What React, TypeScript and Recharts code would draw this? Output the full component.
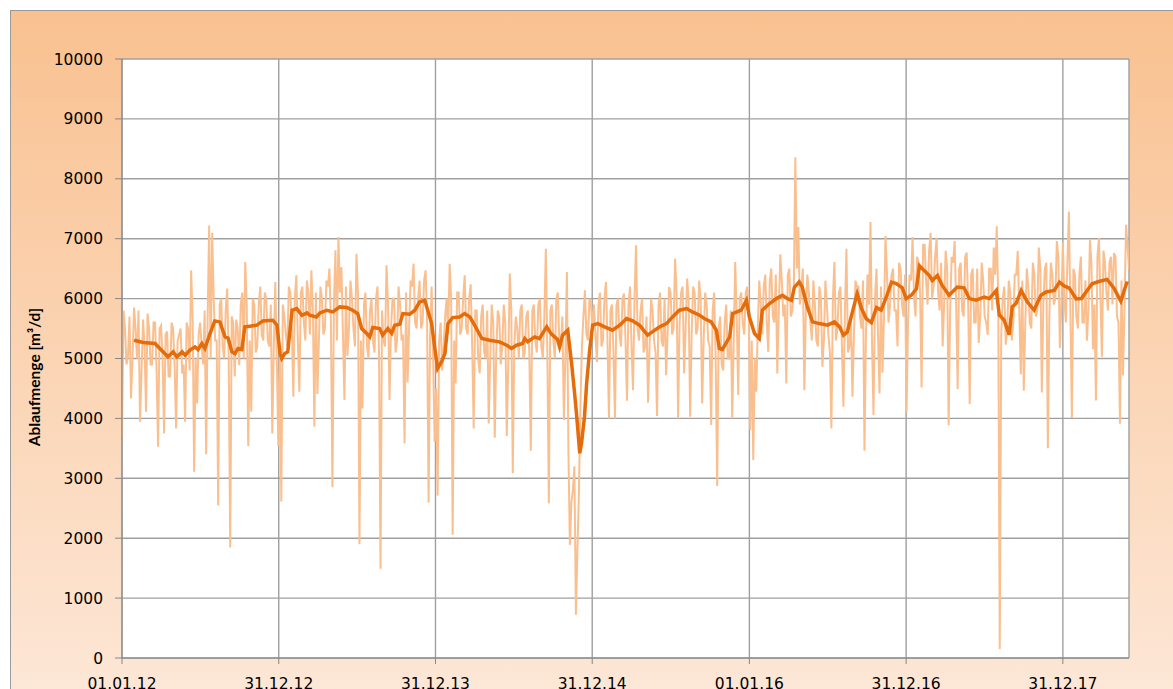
import { LineChart, Line, XAxis, YAxis, CartesianGrid } from "recharts";

// daily outflow: one value at the start of every week ...
const flow2012 = [
  3700, 5500, 5050, 4333, 5850, 5000, 3944, 5650, 4111, 5500,
  4900, 5600, 3528, 5550, 3750, 5450, 4700, 5500, 3833, 5400,
  4750, 3944, 5500, 6472, 3111, 4250, 5600, 4900, 3400, 7222,
  7100, 5300, 2544, 6000, 5000, 6167, 1844, 5600, 5650, 4889,
  6100, 6611, 3539, 4111, 5900, 5200, 6200, 5300, 6000, 5200,
  3750, 6278, 3544,
];
const flow2013 = [
  2611, 5700, 5200, 6100, 4361, 6389, 4444, 6200, 5300, 6100,
  6472, 3861, 4406, 6200, 5400, 6300, 6500, 2850, 6806, 7028,
  6528, 4306, 5044, 6300, 5500, 6750, 1900, 4167, 6100, 5000,
  6000, 5100, 6200, 1489, 5300, 6556, 4306, 6000, 5100, 6200,
  5300, 3583, 4600, 6300, 6583, 5500, 6300, 5600, 6472, 2594,
  6200, 3611,
];
const flow2014 = [
  2711, 5600, 5200, 6000, 6583, 2056, 4583, 6100, 5500, 6389,
  5400, 6239, 3833, 5800, 4750, 5900, 5000, 3917, 5900, 3678,
  5800, 4900, 5900, 3706, 6417, 3083, 5700, 5000, 5900, 5100,
  5800, 3461, 5900, 5100, 6000, 5000, 6833, 2583, 5900, 5000,
  6100, 5200, 3972, 6444, 1889, 2800, 722, 2750, 5200, 6139,
  5300, 5900,
];
const flow2015 = [
  5900, 4944, 6100, 5300, 6278, 4000, 5900, 4000, 6000, 5200,
  6083, 4294, 6200, 4472, 6889, 5300, 6000, 5200, 4261, 6000,
  5300, 4039, 6100, 5200, 4722, 6194, 5400, 6667, 4000, 6100,
  4750, 6333, 4028, 6200, 5400, 6300, 4250, 6100, 5300, 3889,
  6100, 2872, 5700, 4800, 5900, 5000, 4000, 6611, 4389, 6100,
  5400, 6200,
];
const flow2016 = [
  3806, 3306, 4444, 6300, 5400, 6400, 5111, 6500, 5600, 4750,
  6739, 5700, 4583, 6500, 5800, 8361, 7194, 6200, 4472, 6400,
  5600, 6300, 5300, 6200, 4861, 6300, 5400, 3833, 6611, 5500,
  6200, 4194, 6833, 5200, 4361, 6300, 6200, 5500, 3461, 6400,
  7278, 4056, 6500, 4417, 4764, 7044, 5600, 6400, 5800, 5203,
  6500, 5700,
];
const flow2017 = [
  4100, 6400, 7027, 5700, 6600, 4516, 6900, 5900, 7100, 6200,
  7016, 5800, 5203, 6800, 3885, 6700, 6962, 4489, 6600, 5700,
  6770, 4242, 6500, 5600, 5258, 6600, 5700, 5396, 6500, 6852,
  7209, 150, 6000, 5231, 6300, 5300, 6400, 6796, 4736, 4462,
  6500, 5600, 6600, 5700, 6852, 4434, 6500, 3500, 6600, 5900,
  6962, 5176,
];
const flow2018 = [
  6942, 5600, 7452, 4007, 6400, 5500, 6700, 5600, 5299, 6978,
  5153, 4299, 7015, 5029, 6600, 5800, 6700, 6759, 5700, 3912,
  4715, 7233, 6500,
];

// ... and one value in the middle of every week
const mid2012 = [
  5800, 4900, 5700, 5000, 5500, 5800, 4800, 5200, 5750, 4900,
  5600, 4800, 5500, 5000, 5400, 4700, 5600, 4900, 5300, 5500,
  4900, 5600, 4800, 5700, 5000, 5400, 5200, 5800, 5700, 5000,
  6000, 5300, 5900, 5200, 5800, 5000, 5700, 4700, 5500, 5900,
  5000, 5900, 5300, 6000, 5100, 5900, 5400, 6100, 5300, 5900,
  5200, 5000, 5200,
];
const mid2013 = [
  5900, 5400, 6200, 5500, 6000, 5300, 6100, 5600, 6300, 5400,
  5800, 6100, 5300, 6000, 5500, 6200, 5600, 5900, 5300, 6100,
  5400, 6200, 5500, 6000, 5200, 6100, 5300, 5900, 5200, 5800,
  5300, 6000, 5100, 5800, 5200, 5900, 5500, 6000, 5300, 5900,
  5400, 6100, 5500, 6200, 5600, 6000, 5500, 6300, 5600, 5400,
  5000, 4500,
];
const mid2014 = [
  5300, 4800, 5700, 5400, 6000, 5300, 6100, 5400, 6000, 5500,
  6000, 5200, 5800, 5000, 5700, 5100, 5800, 5000, 5600, 5100,
  5700, 5200, 5600, 4900, 5800, 5200, 5500, 5800, 5000, 5700,
  5100, 5800, 5300, 5900, 5200, 5700, 5100, 5800, 5300, 6000,
  5200, 5700, 5000, 3500, 2600, 3200, 1800, 4200, 5700, 5400,
  6000, 5500,
];
const mid2015 = [
  5400, 5900, 5200, 6000, 5300, 5800, 5100, 5900, 5400, 6000,
  5300, 5900, 5200, 6000, 5500, 5800, 5100, 5700, 5200, 5800,
  5100, 5900, 5300, 6000, 5400, 6100, 5500, 6100, 5600, 6200,
  5500, 6000, 5400, 6100, 5500, 6000, 5300, 5900, 5200, 5800,
  5000, 5500, 4900, 5600, 5000, 5800, 5300, 5700, 6000, 5600,
  6100, 5800,
];
const mid2016 = [
  5300, 5000, 5500, 5900, 6200, 5600, 6300, 5700, 6400, 5800,
  6300, 5900, 6400, 5700, 6200, 6500, 5900, 6500, 5800, 6100,
  5300, 5900, 5200, 6000, 5300, 5900, 5100, 6000, 5300, 6100,
  5200, 5800, 5100, 5700, 5400, 6200, 5700, 6300, 5400, 5900,
  5300, 6000, 5400, 6200, 5700, 6400, 5900, 6500, 5800, 6600,
  5900, 6400,
];
const mid2017 = [
  5600, 6300, 6000, 6700, 6100, 6900, 6300, 6800, 6000, 6700,
  6100, 6600, 5900, 6500, 5800, 6600, 5900, 6500, 5800, 6700,
  5900, 6400, 5600, 6500, 5700, 6300, 5600, 6500, 5800, 6400,
  6000, 5400, 6200, 5500, 6100, 5600, 6400, 5800, 6300, 5600,
  6200, 5500, 6400, 5800, 6500, 5900, 6600, 5700, 6400, 6000,
  6700, 5900,
];
const mid2018 = [
  6000, 6600, 5800, 6500, 5700, 6400, 5600, 6300, 5800, 6600,
  5900, 6700, 6000, 6800, 6100, 6600, 5900, 6700, 5600, 6300,
  5800, 6900,
];

// moving average: day since 01.01.12 and value
const avgDay = [
  28, 49, 77, 88, 107, 119, 128, 140, 147, 158, 170, 177, 186, 193, 205, 216, 228, 240, 247, 256,
  263, 270, 279, 286, 298, 314, 328, 351, 361, 368, 372, 379, 386, 396, 407, 419, 431, 437, 453, 461,
  477, 491, 507, 524, 537, 549, 558, 570, 577, 584, 600, 607, 619, 628, 635, 647, 654, 670, 682, 693,
  705, 712, 721, 728, 735, 744, 752, 759, 770, 786, 798, 810, 821, 838, 856, 879, 896, 907, 919, 933,
  938, 945, 961, 972, 989, 1000, 1014, 1019, 1026, 1038, 1047, 1054, 1059, 1066, 1070, 1077, 1082, 1089, 1096, 1108,
  1124, 1142, 1159, 1175, 1189, 1205, 1224, 1235, 1252, 1268, 1282, 1298, 1315, 1328, 1345, 1356, 1372, 1384, 1391, 1398,
  1415, 1422, 1442, 1454, 1461, 1473, 1484, 1491, 1508, 1524, 1538, 1550, 1559, 1566, 1577, 1584, 1596, 1608, 1624, 1643,
  1659, 1671, 1680, 1689, 1701, 1712, 1722, 1733, 1745, 1757, 1768, 1780, 1792, 1803, 1817, 1826, 1838, 1850, 1857, 1868,
  1880, 1887, 1899, 1910, 1926, 1945, 1961, 1973, 1989, 2008, 2020, 2036, 2043, 2054, 2066, 2073, 2082, 2094, 2108, 2124,
  2140, 2152, 2171, 2183, 2194, 2206, 2222, 2234, 2248, 2259, 2275, 2294, 2310, 2326, 2334, 2341,
];
const avgFlow = [
  5305, 5267, 5250, 5167, 5028, 5111, 5028, 5111, 5056, 5139, 5194, 5150, 5250, 5167, 5417, 5628, 5611, 5361, 5340, 5111,
  5083, 5167, 5150, 5528, 5539, 5556, 5628, 5639, 5556, 5083, 5000, 5083, 5110, 5806, 5833, 5722, 5761, 5722, 5694, 5761,
  5806, 5778, 5861, 5850, 5806, 5750, 5500, 5417, 5361, 5517, 5500, 5389, 5500, 5420, 5556, 5572, 5750, 5740, 5806, 5944,
  5972, 5806, 5583, 5194, 4833, 4944, 5083, 5583, 5683, 5694, 5750, 5694, 5556, 5333, 5306, 5278, 5222, 5167, 5222, 5250,
  5333, 5280, 5361, 5333, 5528, 5406, 5320, 5194, 5389, 5472, 4917, 4417, 4028, 3417, 3583, 4028, 4583, 5139, 5556, 5583,
  5528, 5472, 5556, 5667, 5628, 5556, 5389, 5444, 5528, 5583, 5694, 5806, 5833, 5778, 5722, 5667, 5611, 5472, 5167, 5150,
  5361, 5750, 5806, 5972, 5694, 5417, 5333, 5806, 5917, 6000, 6056, 6000, 5972, 6194, 6278, 6194, 5861, 5611, 5583, 5556,
  5611, 5528, 5389, 5444, 5778, 6083, 5833, 5667, 5600, 5850, 5808, 6027, 6275, 6250, 6181, 6000, 6055, 6165, 6549, 6467,
  6385, 6302, 6385, 6220, 6055, 6192, 6180, 6000, 5973, 6027, 6000, 6137, 5725, 5643, 5396, 5863, 5918, 6137, 5945, 5808,
  6055, 6110, 6137, 6275, 6212, 6175, 5993, 6000, 6139, 6248, 6285, 6321, 6175, 5956, 6139, 6285,
];

const tickDays = [0, 365, 730, 1095, 1461, 1826, 2191];
const tickLabels = ["01.01.12", "31.12.12", "31.12.13", "31.12.14", "01.01.16", "31.12.16", "31.12.17"];
const yTicks = [0, 1000, 2000, 3000, 4000, 5000, 6000, 7000, 8000, 9000, 10000];

const weekStart = [...flow2012, ...flow2013, ...flow2014, ...flow2015, ...flow2016, ...flow2017, ...flow2018];
const weekMid = [...mid2012, ...mid2013, ...mid2014, ...mid2015, ...mid2016, ...mid2017, ...mid2018];
const dailyData = weekStart.flatMap((v, i) =>
  i < weekMid.length ? [{ day: i * 7, flow: v }, { day: i * 7 + 3.5, flow: weekMid[i] }] : [{ day: i * 7, flow: v }]
);
const avgData = avgDay.map((d, i) => ({ day: d, flow: avgFlow[i] }));

const tickFont = { fontSize: 15.5, fill: "#000", fontFamily: "DejaVu Sans" };

export default function App() {
  return (
    <div style={{ position: "absolute", left: 0, top: 0, width: 1173, height: 689, overflow: "hidden", background: "#fff" }}>
      <div
        style={{
          position: "absolute",
          left: 10,
          top: 10,
          width: 1200,
          height: 720,
          border: "1px solid #9a9a9a",
          background: "linear-gradient(to bottom, #f9c190 0%, #fde9da 100%)",
        }}
      />
      <svg width={80} height={689} style={{ position: "absolute", left: 0, top: 0 }}>
        <text
          transform="translate(34,377) rotate(-90)"
          textAnchor="middle"
          dominantBaseline="central"
          fontFamily="Lato"
          fontWeight={700}
          fontSize={15.5}
          fill="#000"
        >
          Ablaufmenge [m³/d]
        </text>
      </svg>
      <div style={{ position: "absolute", left: 10, top: 10 }}>
        <LineChart width={1163} height={679} margin={{ top: 49, right: 44, left: 0, bottom: 0 }}>
          <CartesianGrid stroke="#a0a0a0" strokeWidth={1.4} fill="#fff" />
          <XAxis
            type="number"
            dataKey="day"
            domain={[0, 2345]}
            ticks={tickDays}
            tickFormatter={(v) => tickLabels[tickDays.indexOf(v)]}
            height={31}
            tickSize={6}
            tickMargin={14}
            stroke="#868686"
            tick={tickFont}
            allowDataOverflow
          />
          <YAxis
            type="number"
            domain={[0, 10000]}
            ticks={yTicks}
            width={112}
            tickSize={7}
            tickMargin={12}
            stroke="#868686"
            tick={tickFont}
          />
          <Line
            data={dailyData}
            dataKey="flow"
            type="linear"
            stroke="#fabf8f"
            strokeWidth={2}
            dot={false}
            isAnimationActive={false}
          />
          <Line
            data={avgData}
            dataKey="flow"
            type="linear"
            stroke="#e46c0a"
            strokeWidth={3.5}
            dot={false}
            isAnimationActive={false}
          />
        </LineChart>
      </div>
    </div>
  );
}
